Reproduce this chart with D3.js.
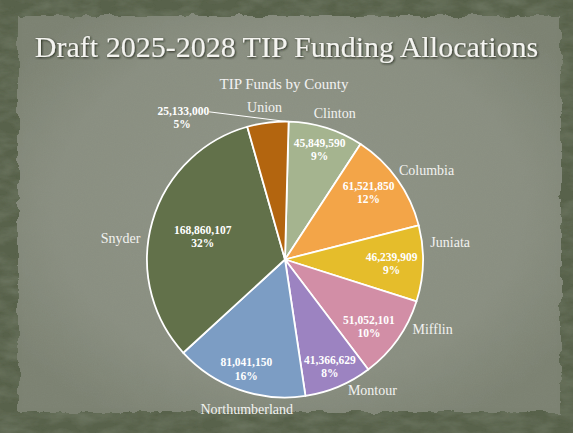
<!DOCTYPE html>
<html>
<head>
<meta charset="utf-8">
<script src="https://cdn.jsdelivr.net/npm/d3@7"></script>
<style>
  html, body { margin: 0; padding: 0; background: #4f5944; }
  svg { display: block; }
</style>
</head>
<body>
<div id="chart"></div>
<script>
const w = 573;
const h = 433;

// data
const counties = ["Clinton", "Columbia", "Juniata", "Mifflin", "Montour", "Northumberland", "Snyder", "Union"];
const funds = [45849590, 61521850, 46239909, 51052101, 41366629, 81041150, 168860107, 25133000];
const sliceColors = ["#a5b48f", "#f3a548", "#e5bd2b", "#d28ea6", "#9c83c1", "#7c9dc4", "#62714a", "#b3650f"];
const title = "Draft 2025-2028 TIP Funding Allocations";
const subtitle = "TIP Funds by County";

const serif = "'Liberation Serif', 'DejaVu Serif', serif";

let svg = d3.select("#chart").append("svg")
    .attr("width", w)
    .attr("height", h)
    .attr("viewBox", "0 0 " + w + " " + h);

let defs = svg.append("defs");

// grunge texture for the frame
let grain = defs.append("filter").attr("id", "grain").attr("x", 0).attr("y", 0).attr("width", 1).attr("height", 1);
grain.append("feTurbulence").attr("type", "fractalNoise").attr("baseFrequency", "0.04 0.09").attr("numOctaves", 4).attr("seed", 4).attr("result", "n");
grain.append("feColorMatrix").attr("in", "n").attr("type", "matrix")
    .attr("values", "0 0 0 0 0.24  0 0 0 0 0.28  0 0 0 0 0.2  0 0 0 0.6 -0.2").attr("result", "c");
grain.append("feComposite").attr("in", "c").attr("in2", "SourceGraphic").attr("operator", "in").attr("result", "t");
grain.append("feMerge").selectAll("feMergeNode").data(["SourceGraphic", "t"]).join("feMergeNode").attr("in", d => d);

// torn edge for the paper panel
let torn = defs.append("filter").attr("id", "torn").attr("x", "-5%").attr("y", "-5%").attr("width", "110%").attr("height", "110%");
torn.append("feTurbulence").attr("type", "fractalNoise").attr("baseFrequency", 0.06).attr("numOctaves", 4).attr("seed", 9).attr("result", "tb");
torn.append("feDisplacementMap").attr("in", "SourceGraphic").attr("in2", "tb").attr("scale", 9)
    .attr("xChannelSelector", "R").attr("yChannelSelector", "G").attr("result", "d");
torn.append("feGaussianBlur").attr("in", "d").attr("stdDeviation", 0.7);

let fine = defs.append("filter").attr("id", "fine").attr("x", 0).attr("y", 0).attr("width", 1).attr("height", 1);
fine.append("feTurbulence").attr("type", "fractalNoise").attr("baseFrequency", 0.9).attr("numOctaves", 2).attr("seed", 2).attr("result", "n");
fine.append("feColorMatrix").attr("in", "n").attr("type", "matrix")
    .attr("values", "0 0 0 0 0.3  0 0 0 0 0.33  0 0 0 0 0.28  0 0 0 0.35 -0.08");

let vign = defs.append("radialGradient").attr("id", "vign").attr("cx", "50%").attr("cy", "48%").attr("r", "62%");
vign.append("stop").attr("offset", "0%").attr("stop-color", "#8f9487");
vign.append("stop").attr("offset", "70%").attr("stop-color", "#8a8f81");
vign.append("stop").attr("offset", "100%").attr("stop-color", "#7c8272");

let glow = defs.append("filter").attr("id", "glow").attr("x", "-5%").attr("y", "-30%").attr("width", "110%").attr("height", "160%");
glow.append("feDropShadow").attr("dx", 1).attr("dy", 1).attr("stdDeviation", 1.2).attr("flood-color", "#1e2418").attr("flood-opacity", 0.9);

// background frame + panel
svg.append("rect").attr("width", w).attr("height", h).attr("fill", "#58624c").attr("filter", "url(#grain)");
svg.append("rect").attr("x", 18).attr("y", 16).attr("width", 543).attr("height", 396)
    .attr("fill", "url(#vign)").attr("filter", "url(#torn)");
svg.append("rect").attr("x", 22).attr("y", 20).attr("width", 535).attr("height", 388)
    .attr("fill", "#fff").attr("filter", "url(#fine)").attr("opacity", 0.5);

// titles
svg.append("text")
    .attr("x", w / 2).attr("y", 57)
    .attr("text-anchor", "middle")
    .attr("font-family", serif).attr("font-size", 30)
    .attr("fill", "#f4f4f0")
    .attr("filter", "url(#glow)")
    .text(title);

svg.append("text")
    .attr("x", 284).attr("y", 89)
    .attr("text-anchor", "middle")
    .attr("font-family", serif).attr("font-size", 15)
    .attr("fill", "#f2f2f2")
    .text(subtitle);

// pie
const cx = 285, cy = 259.5, r = 138;
const rot = 1.5 * Math.PI / 180;
const total = d3.sum(funds);
const fmt = d3.format(",");
const pct = d3.format(".0%");

let rows = counties.map((c, i) => ({county: c, value: funds[i], color: sliceColors[i]}));
let pie = d3.pie().sort(null).value(d => d.value).startAngle(rot).endAngle(rot + 2 * Math.PI);
let arc = d3.arc().innerRadius(0).outerRadius(r);
let arcs = pie(rows);

let g = svg.append("g").attr("transform", "translate(" + cx + "," + cy + ")");

g.selectAll("path.slice")
    .data(arcs)
    .join("path")
    .attr("class", "slice")
    .attr("d", arc)
    .attr("fill", d => d.data.color)
    .attr("stroke", "#ffffff")
    .attr("stroke-width", 1.8)
    .attr("stroke-linejoin", "round");

const polar = (a, rad) => [rad * Math.sin(a), -rad * Math.cos(a)];
const mid = d => (d.startAngle + d.endAngle) / 2;
const deg = Math.PI / 180;

// value labels
let small = arcs.filter(d => d.data.value / total < 0.06);
let inside = arcs.filter(d => d.data.value / total >= 0.06);

let vals = g.selectAll("text.val")
    .data(inside)
    .join("text")
    .attr("class", "val")
    .attr("text-anchor", "middle")
    .attr("font-family", serif).attr("font-weight", "bold").attr("font-size", 11.5)
    .attr("fill", "#ffffff");
vals.append("tspan").attr("x", 0).attr("dy", "-0.2em").text(d => fmt(d.data.value));
vals.append("tspan").attr("x", 0).attr("dy", "1.15em").text(d => pct(d.data.value / total));

// keep side labels inside the circle
vals.each(function(d) {
    let k = d.data.value / total > 0.25 ? 0.62 : 0.84;
    let p = polar(mid(d), r * k);
    if (Math.abs(p[0]) > Math.abs(p[1])) {
        let half = this.getBBox().width / 2;
        let yy = Math.abs(p[1]) + 8;
        let edge = Math.sqrt(Math.max(0, (r - 5) * (r - 5) - yy * yy));
        if (Math.abs(p[0]) + half > edge) p[0] = Math.sign(p[0]) * (edge - half);
    }
    d3.select(this).attr("transform", "translate(" + p[0] + "," + p[1] + ")");
});

// small slice: label outside with a leader line
small.forEach(d => {
    let p = polar(mid(d) - 20 * deg, r + 28);
    let e = polar(d.endAngle - 1 * deg, r);
    g.append("line")
        .attr("x1", p[0]).attr("y1", p[1])
        .attr("x2", e[0]).attr("y2", e[1])
        .attr("stroke", "#ffffff").attr("stroke-width", 1);
    let t = g.append("text")
        .attr("font-family", serif).attr("font-weight", "bold").attr("font-size", 11.5)
        .attr("fill", "#ffffff");
    t.append("tspan").attr("x", p[0]).attr("y", p[1] + 3).attr("text-anchor", "end").text(fmt(d.data.value));
    t.append("tspan").attr("x", p[0] - 27).attr("y", p[1] + 16).attr("text-anchor", "middle").text(pct(d.data.value / total));
});

// county names outside the pie
let names = g.selectAll("text.name")
    .data(arcs)
    .join("text")
    .attr("class", "name")
    .attr("font-family", serif).attr("font-size", 14)
    .attr("fill", "#f2f2f0")
    .attr("text-anchor", "middle")
    .attr("dominant-baseline", "central")
    .text(d => d.data.county);

names.each(function(d) {
    let a = mid(d);
    if (a > 80 * deg && a < 340 * deg) a -= 8 * deg;
    let bb = this.getBBox();
    let p = polar(a, r + 8);
    let x = p[0] + bb.width / 2 * Math.sin(a);
    let y = p[1] - 7 * Math.cos(a);
    d3.select(this).attr("x", x).attr("y", y);
});
</script>
</body>
</html>
